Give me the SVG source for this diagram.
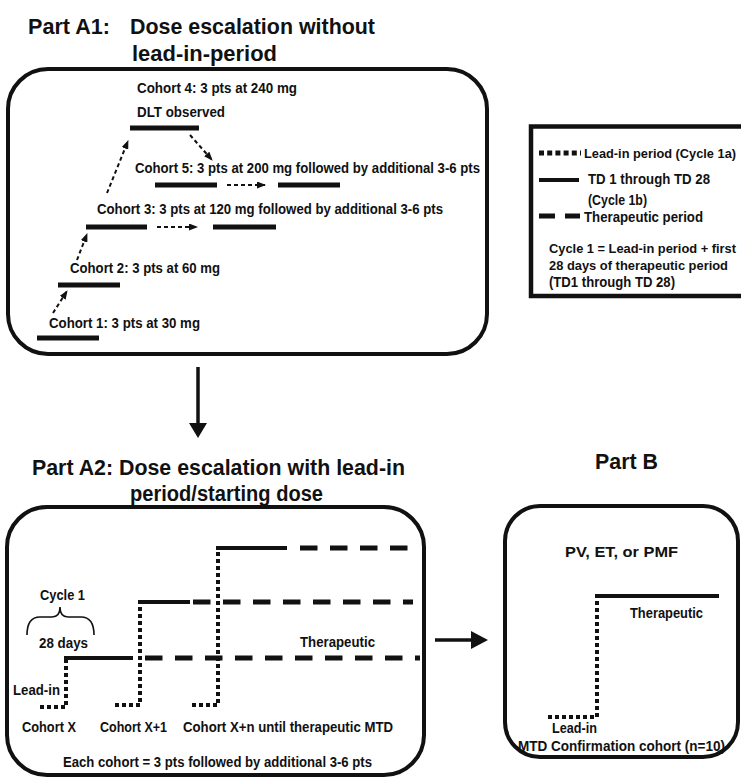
<svg xmlns="http://www.w3.org/2000/svg" width="741" height="777" viewBox="0 0 741 777">
<defs>
<style>
.t{font-family:"Liberation Sans Narrow","Liberation Sans",Arial,sans-serif;font-weight:bold;fill:#111;}
.a1{font-size:15px;}
.lg{font-size:14px;}
.lgs{font-size:13px;}
.a2{font-size:14.5px;}
.ti{font-family:"Liberation Sans",Arial,sans-serif;font-weight:bold;font-size:21.5px;fill:#111;}
.box{fill:none;stroke:#111;stroke-width:4;}
.bar{stroke:#111;stroke-width:5;fill:none;}
.sol{stroke:#111;stroke-width:4;fill:none;}
.dot{stroke:#111;stroke-width:4;stroke-dasharray:4 3;fill:none;}
.dsh{stroke:#111;stroke-width:5;stroke-dasharray:17.5 12.5;fill:none;}
.arr{stroke:#111;stroke-width:2;stroke-dasharray:4 3;fill:none;marker-end:url(#ah);}
.big{stroke:#111;stroke-width:3.5;fill:none;}
.head{fill:#111;stroke:none;}
</style>
<marker id="ah" markerUnits="userSpaceOnUse" markerWidth="9" markerHeight="7" refX="8" refY="3.5" orient="auto">
<path d="M0,0 L9,3.5 L0,7 z" fill="#111"/>
</marker>
</defs>
<rect width="741" height="777" fill="#fff"/>

<g id="title-a1">
<text class="ti" x="28" y="34" textLength="82" lengthAdjust="spacingAndGlyphs">Part A1:</text>
<text class="ti" x="130" y="34" textLength="245" lengthAdjust="spacingAndGlyphs">Dose escalation without</text>
<text class="ti" x="132" y="61" textLength="145" lengthAdjust="spacingAndGlyphs">lead-in-period</text>
</g>

<g id="part-a1">
<rect class="box" x="8" y="69" width="479" height="285" rx="40"/>
<g id="cohort4">
<text class="t a1" x="137" y="93" textLength="160" lengthAdjust="spacingAndGlyphs">Cohort 4: 3 pts at 240 mg</text>
<text class="t a1" x="137" y="117" textLength="88" lengthAdjust="spacingAndGlyphs">DLT observed</text>
<line class="bar" x1="130" y1="128" x2="199" y2="128"/>
</g>
<g id="cohort5">
<text class="t a1" x="135" y="173" textLength="345" lengthAdjust="spacingAndGlyphs">Cohort 5: 3 pts at 200 mg followed by additional 3-6 pts</text>
<line class="bar" x1="155" y1="185" x2="217" y2="185"/>
<line class="bar" x1="278" y1="185" x2="340" y2="185"/>
</g>
<g id="cohort3">
<text class="t a1" x="97" y="214" textLength="346" lengthAdjust="spacingAndGlyphs">Cohort 3: 3 pts at 120 mg followed by additional 3-6 pts</text>
<line class="bar" x1="86" y1="227" x2="147" y2="227"/>
<line class="bar" x1="213" y1="227" x2="276" y2="227"/>
</g>
<g id="cohort2">
<text class="t a1" x="70" y="273" textLength="150" lengthAdjust="spacingAndGlyphs">Cohort 2: 3 pts at 60 mg</text>
<line class="bar" x1="58" y1="285" x2="120" y2="285"/>
</g>
<g id="cohort1">
<text class="t a1" x="49" y="328" textLength="151" lengthAdjust="spacingAndGlyphs">Cohort 1: 3 pts at 30 mg</text>
<line class="bar" x1="37" y1="338" x2="99" y2="338"/>
</g>
</g>

<g id="legend">
<path d="M741,126.5 H531 V296 H741" fill="none" stroke="#111" stroke-width="4.5"/>
<line x1="539" y1="153" x2="581" y2="153" stroke="#111" stroke-width="5" stroke-dasharray="5 3.2"/>
<text class="t lgs" x="584" y="158" textLength="152" lengthAdjust="spacingAndGlyphs">Lead-in period (Cycle 1a)</text>
<line class="sol" x1="539" y1="180" x2="579" y2="180"/>
<text class="t lg" x="588" y="184" textLength="122" lengthAdjust="spacingAndGlyphs">TD 1 through TD 28</text>
<text class="t lg" x="588" y="205" textLength="59" lengthAdjust="spacingAndGlyphs">(Cycle 1b)</text>
<line x1="539" y1="216" x2="580" y2="216" stroke="#111" stroke-width="5" stroke-dasharray="16 10"/>
<text class="t lg" x="584" y="222" textLength="119" lengthAdjust="spacingAndGlyphs">Therapeutic period</text>
<text class="t lgs" x="549" y="253" textLength="187" lengthAdjust="spacingAndGlyphs">Cycle 1 = Lead-in period + first</text>
<text class="t lgs" x="549" y="270" textLength="179" lengthAdjust="spacingAndGlyphs">28 days of therapeutic period</text>
<text class="t lg" x="549" y="287" textLength="126" lengthAdjust="spacingAndGlyphs">(TD1 through TD 28)</text>
</g>

<g id="title-a2">
<text class="ti" x="32" y="475" textLength="373" lengthAdjust="spacingAndGlyphs">Part A2: Dose escalation with lead-in</text>
<text class="ti" x="130" y="501" textLength="193" lengthAdjust="spacingAndGlyphs">period/starting dose</text>
</g>

<g id="title-b">
<text class="ti" x="595" y="469" textLength="63" lengthAdjust="spacingAndGlyphs">Part B</text>
</g>

<g id="part-a2">
<rect class="box" x="7" y="507" width="417" height="268" rx="40"/>
<g id="cycle1">
<text class="t a2" x="40" y="600" textLength="45" lengthAdjust="spacingAndGlyphs">Cycle 1</text>
<path d="M27,635 Q27,617 40,617 L52,617 Q60,617 60,607 Q60,617 68,617 L81,617 Q94,617 94,635" fill="none" stroke="#111" stroke-width="1.6"/>
<text class="t a2" x="39" y="648" textLength="49" lengthAdjust="spacingAndGlyphs">28 days</text>
</g>
<g id="cohort-x">
<path class="dot" d="M40,707 L66,707 L66,660"/>
<line class="sol" x1="64" y1="658" x2="133" y2="658"/>
<line class="dsh" x1="145" y1="658" x2="420" y2="658"/>
<text class="t a2" x="13" y="695" textLength="47" lengthAdjust="spacingAndGlyphs">Lead-in</text>
<text class="t a2" x="22" y="732" textLength="54" lengthAdjust="spacingAndGlyphs">Cohort X</text>
</g>
<g id="cohort-x1">
<path class="dot" d="M115,705 L140,705 L140,604"/>
<line class="sol" x1="138" y1="602" x2="190" y2="602"/>
<line class="dsh" x1="193" y1="602" x2="413" y2="602"/>
<text class="t a2" x="100" y="732" textLength="67" lengthAdjust="spacingAndGlyphs">Cohort X+1</text>
</g>
<g id="cohort-xn">
<path class="dot" d="M192,705 L218,705 L218,550"/>
<line class="sol" x1="216" y1="548" x2="287" y2="548"/>
<line class="dsh" x1="300" y1="548" x2="408" y2="548"/>
<text class="t a2" x="183" y="732" textLength="210" lengthAdjust="spacingAndGlyphs">Cohort X+n until therapeutic MTD</text>
</g>
<text class="t a2" x="300" y="647" textLength="75" lengthAdjust="spacingAndGlyphs">Therapeutic</text>
<text class="t a2" x="63" y="767" textLength="309" lengthAdjust="spacingAndGlyphs">Each cohort = 3 pts followed by additional 3-6 pts</text>
</g>

<g id="part-b">
<rect class="box" x="505" y="506" width="233" height="251" rx="35"/>
<text class="t" x="565" y="557" font-size="15" font-weight="normal" textLength="113" lengthAdjust="spacingAndGlyphs">PV, ET, or PMF</text>
<line class="sol" x1="595" y1="596" x2="719" y2="596"/>
<path class="dot" d="M548,717 L597,717 L597,598"/>
<text class="t a2" x="630" y="618" textLength="73" lengthAdjust="spacingAndGlyphs">Therapeutic</text>
<text class="t a2" x="552" y="733" textLength="45" lengthAdjust="spacingAndGlyphs">Lead-in</text>
<text class="t a2" x="518" y="751" textLength="207" lengthAdjust="spacingAndGlyphs">MTD Confirmation cohort (n=10)</text>
</g>

<g id="connectors">
<path class="arr" d="M53,313 L67,291"/>
<path class="arr" d="M77,260 L87,234"/>
<path class="arr" d="M107,193 L128,141"/>
<path class="arr" d="M190,135 L212,160"/>
<path class="arr" d="M157,227 L197,227"/>
<path class="arr" d="M227,185 L265,185"/>
<line class="big" x1="198" y1="367" x2="198" y2="425"/>
<polygon class="head" points="189,423 207,423 198,438"/>
<line class="big" x1="435" y1="640" x2="473" y2="640"/>
<polygon class="head" points="471,631 471,649 488,640"/>
</g>
</svg>
